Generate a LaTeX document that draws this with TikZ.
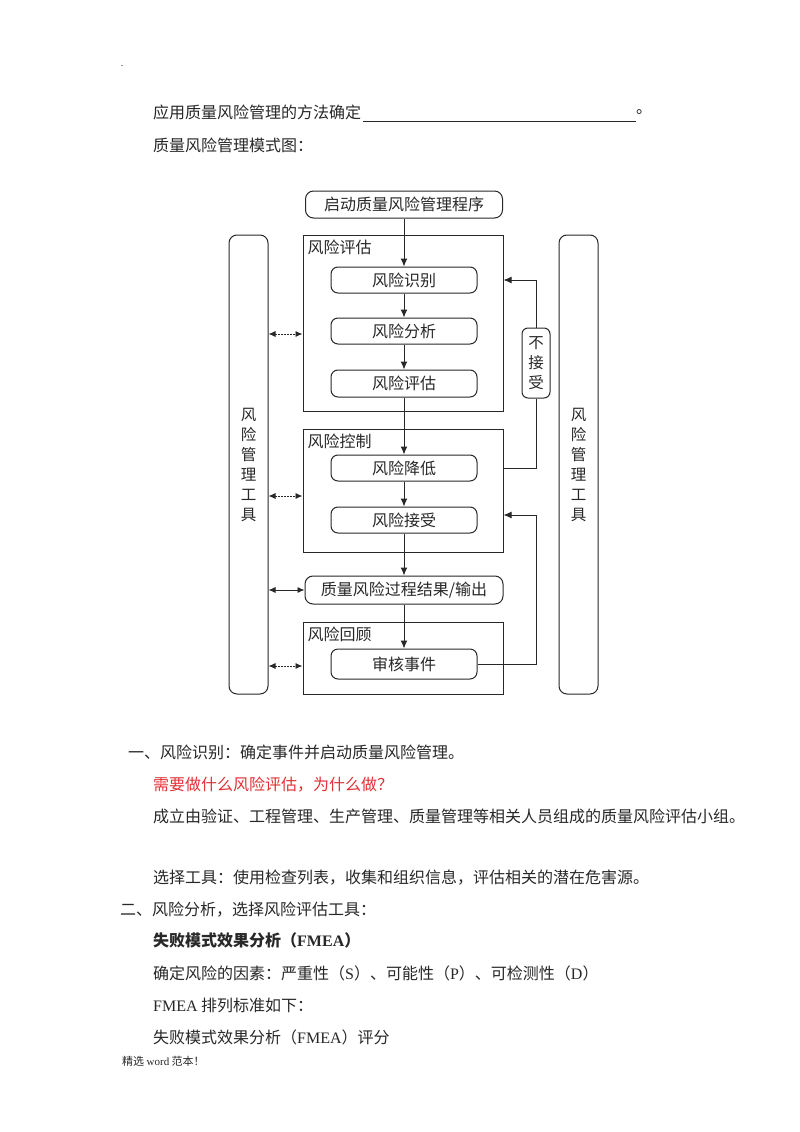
\documentclass[tikz,border=0pt]{standalone}
\usepackage{fontspec}
\setmainfont{Liberation Serif}
\newfontfamily\cjk{Noto Sans CJK SC}
\usetikzlibrary{arrows.meta,positioning}

\definecolor{ink}{RGB}{40,40,40}
\definecolor{askred}{RGB}{226,48,52}
\newcommand{\bodyfont}{\cjk\fontsize{16}{19}\selectfont}
\newcommand{\diagfont}{\cjk\fontsize{16}{18}\selectfont}
\newcommand{\toolfont}{\cjk\fontsize{15.5}{20}\selectfont}

\begin{document}
\begin{tikzpicture}[x=1pt,y=-1pt,
		every node/.style={inner sep=0pt, text=ink},
		para/.style={anchor=west, font=\bodyfont},
		stepbox/.style={draw=ink, line width=1pt, rounded corners=7pt, font=\diagfont, minimum width=146pt, minimum height=26pt},
		groupbox/.style={draw=ink, line width=1pt, minimum width=200pt},
		grouptitle/.style={anchor=north west, inner sep=5pt, font=\diagfont},
		toolbar/.style={draw=ink, line width=1pt, rounded corners=8pt, minimum width=39pt, minimum height=459pt, align=center, font=\toolfont},
		flow/.style={draw=ink, line width=1pt, -{Latex[length=8pt,width=7pt]}},
		link/.style={draw=ink, line width=0.9pt, {Latex[length=7pt,width=6pt]}-{Latex[length=7pt,width=6pt]}},
	]
		\fill[white] (0,0) rectangle (800,1132);
		\useasboundingbox (0,0) rectangle (800,1132);

		% page text above the chart
		\node (dot) [font=\fontsize{10}{10}\selectfont] at (122,66) {.};
		\node (q1) [para] at (153,112) {应用质量风险管理的方法确定};
		\coordinate (blankL) at (363,121);
		\coordinate (blankR) at (636,121);
		\draw[ink, line width=1pt] (blankL) -- (blankR);
		\node (q1end) [para] at (636,112) {。};
		\node (q2) [para] at (153,145) {质量风险管理模式图：};

		% chart
		\node (start) [stepbox, minimum width=197pt, minimum height=27pt, rounded corners=8pt] at (404,204.5) {启动质量风险管理程序};
		\node (assess) [groupbox, minimum height=176pt] at (403,323) {};
		\node (assessT) [grouptitle] at (assess.north west) {风险评估};
		\node (ident) [stepbox] at (404,280) {风险识别};
		\node (analy) [stepbox] at (404,331) {风险分析};
		\node (evalu) [stepbox, minimum height=27pt] at (404,383.5) {风险评估};
		\node (control) [groupbox, minimum height=123pt] at (403,490.5) {};
		\node (controlT) [grouptitle] at (control.north west) {风险控制};
		\node (reduce) [stepbox] at (404,468) {风险降低};
		\node (accept) [stepbox] at (404,520) {风险接受};
		\node (output) [stepbox, minimum width=198pt, minimum height=28pt, rounded corners=8pt] at (404,590) {质量风险过程结果/输出};
		\node (review) [groupbox, minimum height=72pt] at (403,658) {};
		\node (reviewT) [grouptitle] at (review.north west) {风险回顾};
		\node (event) [stepbox, minimum height=30pt] at (404,664) {审核事件};
		\node (toolL) [toolbar] at (248.5,464.5) {风\\险\\管\\理\\工\\具};
		\node (toolR) [toolbar] at (578.5,464.5) {风\\险\\管\\理\\工\\具};
		\node (reject) [stepbox, minimum width=28pt, minimum height=70pt, rounded corners=6pt, align=center, font=\toolfont] at (536,363) {不\\接\\受};

		\draw[flow] (start) -- (ident);
		\draw[flow] (ident) -- (analy);
		\draw[flow] (analy) -- (evalu);
		\draw[flow] (evalu) -- (reduce);
		\draw[flow] (reduce) -- (accept);
		\draw[flow] (accept) -- (output);
		\draw[flow] (output) -- (event);

		% loops back
		\draw[ink, line width=1pt] (control.east |- reduce) -| (reject.south);
		\draw[flow] (reject.north) |- (assess.east |- ident);
		\coordinate (acceptIn) at ([yshift=5pt]control.east |- accept);
		\draw[flow] (event.east) -| (reject.center |- acceptIn) -- (acceptIn);

		% tools
		\draw[link, dash pattern=on 1.5pt off 1.5pt] ([yshift=-3pt]toolL.east |- analy) -- ([yshift=-3pt]assess.west |- analy);
		\draw[link, dash pattern=on 1.5pt off 1.5pt] ([yshift=-5.5pt]toolL.east |- control) -- ([yshift=-5.5pt]control.west);
		\draw[link] (toolL.east |- output) -- (output.west);
		\draw[link, dash pattern=on 1.5pt off 1.5pt] ([yshift=-2pt]toolL.east |- event) -- ([yshift=-2pt]review.west |- event);

		% page text below the chart
		\node (s1) [para] at (128,752) {一、风险识别：确定事件并启动质量风险管理。};
		\node (s2) [para, text=askred] at (153,785) {需要做什么风险评估，为什么做？};
		\node (s3) [para] at (153,816) {成立由验证、工程管理、生产管理、质量管理等相关人员组成的质量风险评估小组。};
		\node (s4) [para] at (153,878) {选择工具：使用检查列表，收集和组织信息，评估相关的潜在危害源。};
		\node (s5) [para] at (120,910) {二、风险分析，选择风险评估工具：};
		\node (s6) [para, font=\bodyfont\bfseries] at (153,940) {失败模式效果分析（\textrm{FMEA}）};
		\node (s7) [para] at (153,973) {确定风险的因素：严重性（\textrm{S}）、可能性（\textrm{P}）、可检测性（\textrm{D}）};
		\node (s8) [para] at (153,1005) {\textrm{FMEA} 排列标准如下：};
		\node (s9) [para] at (153,1037) {失败模式效果分析（\textrm{FMEA}）评分};
		\node (foot) [anchor=west, font=\cjk\fontsize{11}{13}\selectfont] at (122,1061) {精选 \textrm{word} 范本！};
	\end{tikzpicture}
\end{document}
